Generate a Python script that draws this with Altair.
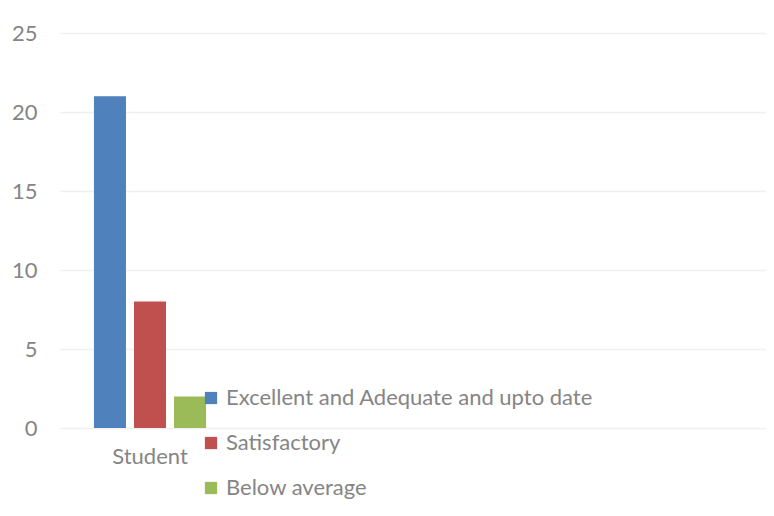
import altair as alt
import pandas as pd

categories = ["Student"]
series = ["Excellent and Adequate and upto date", "Satisfactory", "Below average"]
values = [21, 8, 2]
colors = ["#4F81BD", "#C0504D", "#9BBB59"]
x_domain = ["Student", " ", "  ", "   "]
y_ticks = [0, 5, 10, 15, 20, 25]

df = pd.DataFrame({
    "category": categories * len(series),
    "series": series,
    "value": values,
})

FONT = "Lato"
GRAY = "#858585"

chart = alt.Chart(df).mark_bar().encode(
    x=alt.X("category:N", sort=x_domain,
            scale=alt.Scale(domain=x_domain, paddingInner=0, paddingOuter=0.0133),
            axis=alt.Axis(title=None, labelAngle=0, ticks=False, domain=False, grid=False,
                          labelFontSize=22, labelColor=GRAY, labelFont=FONT,
                          labelPadding=18,
                          labelExpr="datum.value == 'Student' ? 'Student' : ''")),
    xOffset=alt.XOffset("series:N", sort=series,
                        scale=alt.Scale(domain=series, paddingInner=0.2, paddingOuter=0.79)),
    y=alt.Y("value:Q", scale=alt.Scale(domain=[0, 25], nice=False),
            axis=alt.Axis(title=None, values=y_ticks, ticks=False, domain=False,
                          grid=True, gridColor="#f0f0f0", gridWidth=1.5,
                          labelFontSize=22, labelColor=GRAY, labelFont=FONT,
                          labelPadding=23)),
    color=alt.Color("series:N", sort=series,
                    scale=alt.Scale(domain=series, range=colors),
                    legend=alt.Legend(title=None, orient="none", legendX=140, legendY=354,
                                      symbolType="square", symbolSize=150,
                                      symbolStrokeWidth=0,
                                      labelFontSize=22, labelColor=GRAY, labelFont=FONT,
                                      labelOffset=4, rowPadding=23, labelLimit=600)),
).properties(
    width=706, height=395,
    background="white",
    autosize=alt.AutoSizeParams(type="none"),
    padding={"left": 52, "top": 25, "right": 0, "bottom": 75},
).configure_view(stroke="transparent", strokeWidth=0)

chart.save("out.html", embed_options={"renderer": "svg", "actions": False})
